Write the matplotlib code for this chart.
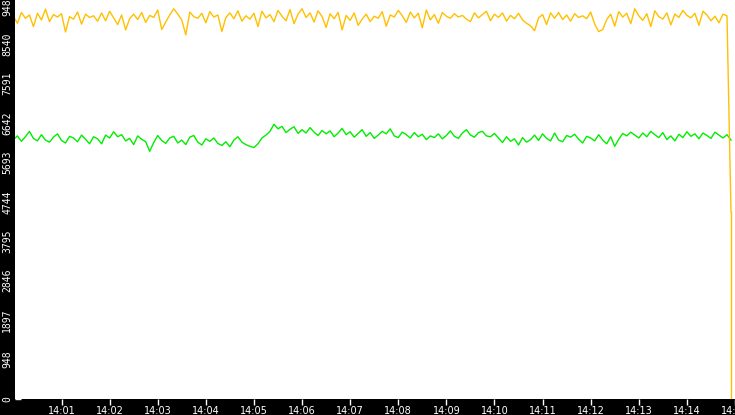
import matplotlib
matplotlib.use("Agg")
import matplotlib.pyplot as plt
import numpy as np

## data (one sample every 5 s from 14:00:00)
yellow = [92.1, 90.4, 93.0, 91.6, 92.4, 89.6, 92.8, 91.2, 93.8, 90.8, 92.5, 91.9,
          92.7, 88.3, 92.0, 91.4, 93.1, 90.2, 92.6, 91.8, 92.2, 90.9, 92.9, 91.0,
          93.3, 91.7, 90.1, 92.4, 88.8, 91.5, 92.6, 91.3, 93.0, 90.6, 92.3, 91.8,
          93.6, 88.9, 90.7, 92.4, 93.9, 92.6, 91.2, 87.6, 93.1, 92.0, 91.6, 92.8,
          90.5, 93.2, 91.9, 92.4, 88.4, 91.8, 92.9, 91.5, 93.4, 90.9, 92.2, 91.4,
          92.8, 89.6, 93.3, 91.7, 92.5, 90.8, 93.5, 92.1, 91.0, 93.7, 90.3, 92.6,
          93.9, 91.8, 92.9, 90.7, 93.4, 92.0, 89.4, 92.7, 91.5, 93.0, 88.8, 92.3,
          91.1, 92.9, 89.9, 91.4, 92.6, 90.8, 92.1, 91.6, 93.2, 89.7, 92.4, 91.9,
          93.5, 92.2, 90.6, 93.1, 91.7, 92.8, 89.3, 93.6, 91.2, 92.5, 90.4, 93.0,
          92.1, 91.6, 92.7, 91.9, 92.3, 91.4, 90.8, 92.9, 91.7, 92.5, 93.3, 91.0,
          92.6, 91.8, 92.9, 90.9, 92.3, 91.5, 92.8, 91.2, 90.4, 89.8, 88.6, 91.7,
          92.5, 90.1, 92.9, 91.6, 93.0, 91.3, 92.4, 90.9, 92.7, 91.8, 92.2, 91.5,
          93.1, 90.2, 88.4, 88.9, 91.3, 92.6, 89.7, 93.2, 91.9, 92.8, 90.3, 93.9,
          92.2, 91.1, 92.7, 89.6, 93.4, 92.0, 91.4, 92.9, 90.0, 92.6, 91.8, 93.5,
          92.3, 91.7, 92.8, 89.9, 93.3, 92.4, 91.0, 92.1, 90.5, 92.6, 92.2, 45.0]
green = [62.4, 63.3, 62.0, 63.1, 64.4, 62.7, 62.1, 63.6, 62.3, 61.8, 63.0, 63.8,
         62.2, 61.6, 63.2, 62.8, 61.9, 63.5, 62.5, 61.4, 63.1, 62.6, 61.4, 63.5,
         62.8, 64.3, 63.1, 63.6, 62.1, 62.7, 61.2, 63.3, 62.5, 61.9, 59.6, 61.7,
         63.4, 62.2, 61.5, 62.8, 63.2, 61.6, 62.3, 61.2, 63.0, 63.4, 61.8, 61.1,
         62.6, 62.0, 62.8, 61.5, 61.0, 61.9, 60.7, 62.3, 63.1, 61.8, 61.2, 60.8,
         60.5, 61.4, 62.8, 63.5, 64.4, 66.1, 65.0, 65.6, 64.1, 64.9, 65.5, 63.9,
         64.8, 64.0, 65.3, 64.2, 63.4, 64.6, 63.8, 64.5, 63.1, 64.0, 65.1, 63.6,
         64.3, 63.0, 63.9, 64.8, 63.2, 64.1, 62.7, 63.5, 64.4, 63.8, 65.0, 63.3,
         62.9, 64.2, 63.6, 62.8, 64.1, 63.1, 63.7, 62.4, 63.3, 62.9, 63.8, 62.6,
         63.4, 64.5, 63.2, 62.7, 64.0, 64.8, 63.5, 63.0, 64.1, 64.4, 63.3, 63.1,
         63.9, 62.8, 61.7, 63.1, 62.0, 62.6, 61.1, 62.9, 61.8, 62.4, 63.5, 62.2,
         63.8, 62.7, 62.1, 64.0, 62.3, 61.9, 63.4, 63.0, 63.7, 62.5, 61.6, 63.2,
         62.8, 62.1, 63.6, 62.3, 61.4, 63.1, 60.8, 62.5, 63.9, 63.3, 64.2, 63.5,
         62.8, 64.0, 63.1, 64.4, 63.6, 62.9, 64.1, 62.4, 63.3, 62.1, 63.7, 62.9,
         64.3, 63.2, 63.8, 62.6, 64.0, 63.4, 62.7, 64.2, 63.5, 62.8, 63.6, 62.3]
y_ticks = [0, 948, 1897, 2846, 3795, 4744, 5693, 6642, 7591, 8540, 9489]
x_tick_labels = ["14:01", "14:02", "14:03", "14:04", "14:05", "14:06", "14:07", "14:08",
                 "14:09", "14:10", "14:11", "14:12", "14:13", "14:14", "14:15"]

t_y = np.arange(len(yellow)) * 5
t_g = np.arange(len(green)) * 5
yellow = np.array(yellow) * 100
green = np.array(green) * 100

fig = plt.figure(figsize=(7.35, 4.15), dpi=100, facecolor="black")
ax = fig.add_axes([15 / 735, 16 / 415, 720 / 735, 399 / 415])
ax.set_facecolor("white")

ax.plot(t_g, green, color="#00ee00", lw=1)
ax.plot(t_y, yellow, color="#ffc000", lw=1)
ax.plot([t_y[-1], t_y[-1]], [yellow[-1], 0], color="#ffc000", lw=1)

ax.set_xlim(2, 900)
ax.set_ylim(0, 9600)
ax.set_yticks(y_ticks)
ax.set_yticklabels([str(v) for v in y_ticks], rotation=90, va="center",
                   color="white", fontsize=7, family="DejaVu Sans Mono")
ax.set_xticks([60 * (i + 1) for i in range(len(x_tick_labels))])
ax.set_xticklabels(x_tick_labels, color="white", fontsize=7)
ax.tick_params(axis="both", colors="white", length=4, width=1, pad=1)
ax.tick_params(axis="y", direction="in", pad=2)
for s in ax.spines.values():
    s.set_visible(False)

fig.savefig("out.png", dpi=100, facecolor="black")
